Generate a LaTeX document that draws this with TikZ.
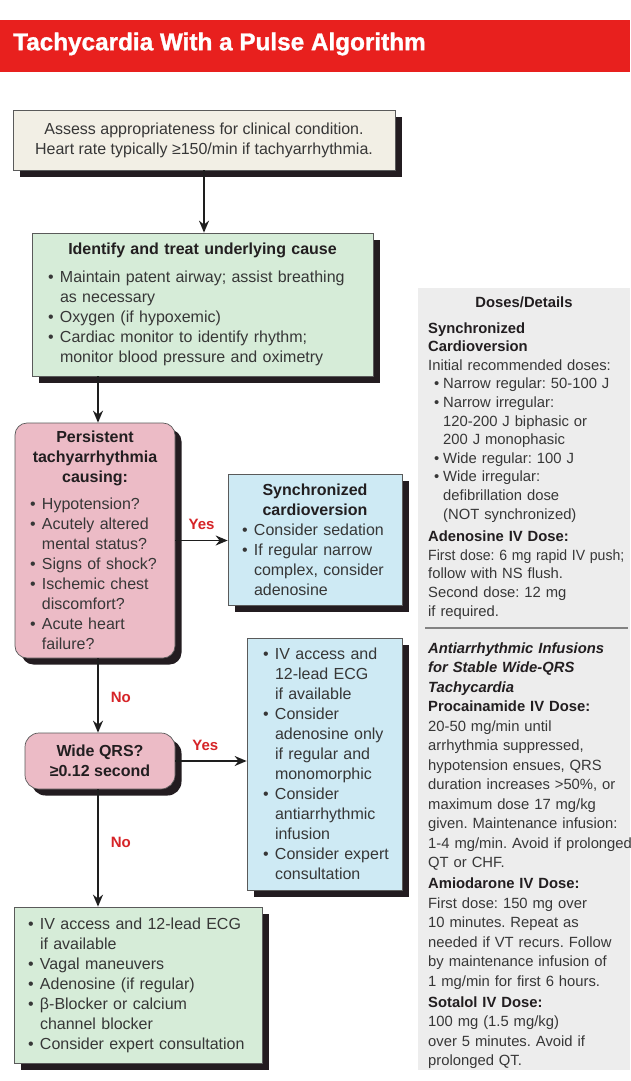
\documentclass[tikz,border=0pt]{standalone}
\usepackage{fontspec}
\setmainfont{Liberation Sans}
\newfontface\titlefont{Liberation Sans Bold}[FakeBold=1.2]
\usetikzlibrary{arrows.meta,shadows}

\definecolor{barred}{RGB}{232,32,30}
\definecolor{labred}{RGB}{214,36,40}
\definecolor{beigef}{RGB}{242,239,229}
\definecolor{greenf}{RGB}{214,236,216}
\definecolor{pinkf}{RGB}{236,187,198}
\definecolor{bluef}{RGB}{206,234,244}
\definecolor{panelf}{RGB}{237,237,237}
\definecolor{inkc}{RGB}{55,55,55}
\definecolor{headc}{RGB}{34,30,32}
\definecolor{edgec}{RGB}{90,90,90}
\definecolor{shadowc}{RGB}{35,28,32}
\definecolor{arrowc}{RGB}{30,30,30}
\definecolor{rulec}{RGB}{130,130,130}

\setlength{\parindent}{0pt}
\frenchspacing
% bullet item / continuation line for the flow boxes
\newcommand\bi[1]{\makebox[12pt][l]{\textbullet}\mbox{#1}}
\newcommand\ci[1]{\hspace*{12pt}\mbox{#1}}
% bullet item / continuation line for the side panel
\newcommand\pbi[1]{\hspace*{6pt}\makebox[9pt][l]{\textbullet}\mbox{#1}}
\newcommand\pci[1]{\hspace*{15pt}\mbox{#1}}
% slightly narrowed line for the longest panel entry
\newcommand\narrowline[1]{\scalebox{0.95}[1]{#1}}
% centred heading line inside a ragged-right box
\newcommand\ctr[1]{\makebox[\hsize][c]{#1}}
\newcommand\hd[1]{{\bfseries\color{headc}#1}}
\newcommand\flowfont{\fontsize{16}{20}\selectfont}

\begin{document}
\begin{tikzpicture}[x=1pt,y=-1pt,
  flowbox/.style={draw=edgec, line width=0.7pt, text=inkc, font=\flowfont,
    inner ysep=0pt,
    drop shadow={shadow xshift=6.5pt, shadow yshift=-6.5pt, fill=shadowc, opacity=1}},
  listbox/.style={flowbox, align=left},
  flow/.style={draw=arrowc, line width=1.6pt, -{Stealth[length=12pt,width=10pt]}},
  answer/.style={text=labred, font=\fontsize{15}{18}\selectfont\bfseries, inner sep=0pt},
  paneltext/.style={text=inkc, align=left, inner sep=0pt, text width=230pt},
]
\useasboundingbox (0,0) rectangle (630,1081);
\fill[white] (0,0) rectangle (630,1081);

% title bar
\fill[barred] (0,20) rectangle (630,72);
\node[anchor=west, text=white, inner sep=0pt, font=\fontsize{24.3}{28}\selectfont\titlefont]
  (title) at (13,44) {Tachycardia With a Pulse Algorithm};

% side panel with doses
\node[fill=panelf, inner sep=0pt, minimum width=212pt, minimum height=782pt]
  (panel) at (524,679) {};
\node[inner sep=0pt, font=\fontsize{14.8}{19}\selectfont] (doses) at (524,302) {\hd{Doses/Details}};
\node[paneltext, anchor=base west, font=\fontsize{14.8}{18.6}\selectfont] (cvdose) at (428,333) {%
\hd{Synchronized}\\
\hd{Cardioversion}\\
Initial recommended doses:\\
\pbi{Narrow regular: 50-100 J}\\
\pbi{Narrow irregular:}\\
\pci{120-200 J biphasic or}\\
\pci{200 J monophasic}\\
\pbi{Wide regular: 100 J}\\
\pbi{Wide irregular:}\\
\pci{defibrillation dose}\\
\pci{(NOT synchronized)}\\[4pt]
\hd{Adenosine IV Dose:}\\
\narrowline{First dose: 6 mg rapid IV push;}\\
follow with NS flush.\\
Second dose: 12 mg\\
if required.};
\coordinate (ruleL) at (425,628);
\coordinate (ruleR) at (628,628);
\draw[rulec, line width=1.3pt] (ruleL) -- (ruleR);
\node[paneltext, anchor=base west, font=\fontsize{14.8}{19.5}\selectfont] (infusions) at (428,653) {%
\hd{\itshape Antiarrhythmic Infusions}\\
\hd{\itshape for Stable Wide-QRS}\\
\hd{\itshape Tachycardia}\\
\hd{Procainamide IV Dose:}\\
20-50 mg/min until\\
arrhythmia suppressed,\\
hypotension ensues, QRS\\
duration increases >50\%, or\\
maximum dose 17 mg/kg\\
given. Maintenance infusion:\\
1-4 mg/min. Avoid if prolonged\\
QT or CHF.\\[1.5pt]
\hd{Amiodarone IV Dose:}\\
First dose: 150 mg over\\
10 minutes. Repeat as\\
needed if VT recurs. Follow\\
by maintenance infusion of\\
1 mg/min for first 6 hours.\\[1.5pt]
\hd{Sotalol IV Dose:}\\
100 mg (1.5 mg/kg)\\
over 5 minutes. Avoid if\\
prolonged QT.};

% flow boxes
\node[flowbox, fill=beigef, align=center, minimum width=382pt, minimum height=60pt]
  (assess) at (204,140)
  {Assess appropriateness for clinical condition.\\Heart rate typically ≥150/min if tachyarrhythmia.};

\node[listbox, fill=greenf, text width=309pt, inner xsep=16pt, minimum height=143pt]
  (cause) at (202.5,304.5) {%
\ctr{\hd{Identify and treat underlying cause}}\\[8pt]
\bi{Maintain patent airway; assist breathing}\\
\ci{as necessary}\\
\bi{Oxygen (if hypoxemic)}\\
\bi{Cardiac monitor to identify rhythm;}\\
\ci{monitor blood pressure and oximetry}};

\node[listbox, fill=pinkf, rounded corners=12pt, text width=130pt, inner xsep=15pt,
  minimum height=235pt] (persist) at (95,540.5) {%
\ctr{\hd{Persistent}}\\
\ctr{\hd{tachyarrhythmia}}\\
\ctr{\hd{causing:}}\\[7pt]
\bi{Hypotension?}\\
\bi{Acutely altered}\\
\ci{mental status?}\\
\bi{Signs of shock?}\\
\bi{Ischemic chest}\\
\ci{discomfort?}\\
\bi{Acute heart}\\
\ci{failure?}};

\node[listbox, fill=bluef, text width=146pt, inner xsep=14pt, minimum height=131pt]
  (cardio) at (315,539.5) {%
\ctr{\hd{Synchronized}}\\
\ctr{\hd{cardioversion}}\\
\bi{Consider sedation}\\
\bi{If regular narrow}\\
\ci{complex, consider}\\
\ci{adenosine}};

\node[flowbox, fill=pinkf, rounded corners=14pt, align=center, minimum width=150pt,
  minimum height=56pt] (wideqrs) at (100,761) {\hd{Wide QRS?}\\\hd{≥0.12 second}};

\node[listbox, fill=bluef, text width=123pt, inner xsep=16pt, minimum height=252pt]
  (wideyes) at (324.5,764) {%
\bi{IV access and}\\
\ci{12-lead ECG}\\
\ci{if available}\\
\bi{Consider}\\
\ci{adenosine only}\\
\ci{if regular and}\\
\ci{monomorphic}\\
\bi{Consider}\\
\ci{antiarrhythmic}\\
\ci{infusion}\\
\bi{Consider expert}\\
\ci{consultation}};

\node[listbox, fill=greenf, text width=220pt, inner xsep=14pt, minimum height=156pt]
  (narrow) at (138,985) {%
\bi{IV access and 12-lead ECG}\\
\ci{if available}\\
\bi{Vagal maneuvers}\\
\bi{Adenosine (if regular)}\\
\bi{β-Blocker or calcium}\\
\ci{channel blocker}\\
\bi{Consider expert consultation}};

% connectors
\coordinate (trunk) at (98,0);
\draw[flow] (assess.south) -- (assess.south |- cause.north);
\draw[flow] (cause.south -| trunk) -- (persist.north -| trunk);
\draw[flow] (persist.east) -- (persist.east -| cardio.west)
  node[answer, midway, above=10pt] {Yes};
\draw[flow] (persist.south -| trunk) -- (wideqrs.north -| trunk)
  node[answer, pos=0.52, right=12pt] {No};
\draw[flow] (wideqrs.east) -- (wideqrs.east -| wideyes.west)
  node[answer, pos=0.42, above=10pt] {Yes};
\draw[flow] (wideqrs.south -| trunk) -- (narrow.north -| trunk)
  node[answer, pos=0.45, right=12pt] {No};
\end{tikzpicture}
\end{document}
